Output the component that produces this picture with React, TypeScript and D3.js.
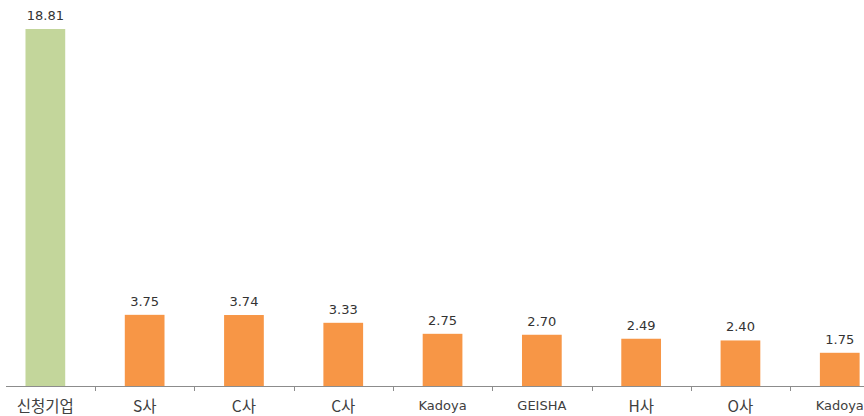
import * as d3 from "d3";

// 데이터
const categories = ["신청기업", "S사", "C사", "C사", "Kadoya", "GEISHA", "H사", "O사", "Kadoya"];
const values = [18.81, 3.75, 3.74, 3.33, 2.75, 2.7, 2.49, 2.4, 1.75];
const valueLabels = ["18.81", "3.75", "3.74", "3.33", "2.75", "2.70", "2.49", "2.40", "1.75"];

const W = 864;
const H = 416;
const hangul = /[\uac00-\ud7a3]/;

export default function App() {
  const idx = categories.map((_, i) => i);
  // 잘린 차트라서 범위가 화면 밖으로 나감
  const x = d3
    .scaleBand<number>()
    .domain(idx)
    .range([-4.3, 889.4])
    .paddingInner(0.6)
    .paddingOuter(0.3);
  const y = d3.scaleLinear().domain([0, 18.81]).range([386, 29]);
  const step = x.step();
  const gap = step * x.paddingInner();
  const base = y(0);

  return (
    <svg
      width={W}
      height={H}
      style={{ position: "fixed", left: 0, top: 0, background: "#fff" }}
    >
      {idx.map((i) => (
        <rect
          key={"b" + i}
          x={x(i)}
          y={y(values[i])}
          width={x.bandwidth()}
          height={base - y(values[i])}
          fill={i === 0 ? "#C3D69B" : "#F79646"}
        />
      ))}
      {/* 축 */}
      <line x1={6} x2={W} y1={base + 0.5} y2={base + 0.5} stroke="#8c8c8c" strokeWidth={1} />
      {idx.slice(1).map((i) => {
        const tx = Math.round((x(i) ?? 0) - gap / 2) + 0.5;
        return (
          <line key={"t" + i} x1={tx} x2={tx} y1={base} y2={base + 5} stroke="#8c8c8c" />
        );
      })}
      {idx.map((i) => (
        <text
          key={"v" + i}
          x={(x(i) ?? 0) + x.bandwidth() / 2}
          y={y(values[i]) - 9}
          textAnchor="middle"
          fontFamily="DejaVu Sans, Verdana, sans-serif"
          fontSize={13}
          fill="#333"
        >
          {valueLabels[i]}
        </text>
      ))}
      {idx.map((i) => {
        const kr = hangul.test(categories[i]);
        return (
          <text
            key={"c" + i}
            x={(x(i) ?? 0) + x.bandwidth() / 2}
            y={kr ? 412 : 410}
            textAnchor="middle"
            fontFamily={kr ? "Noto Sans CJK KR, sans-serif" : "DejaVu Sans, sans-serif"}
            fontSize={kr ? 15.5 : 13}
            fill="#404040"
          >
            {categories[i]}
          </text>
        );
      })}
    </svg>
  );
}
